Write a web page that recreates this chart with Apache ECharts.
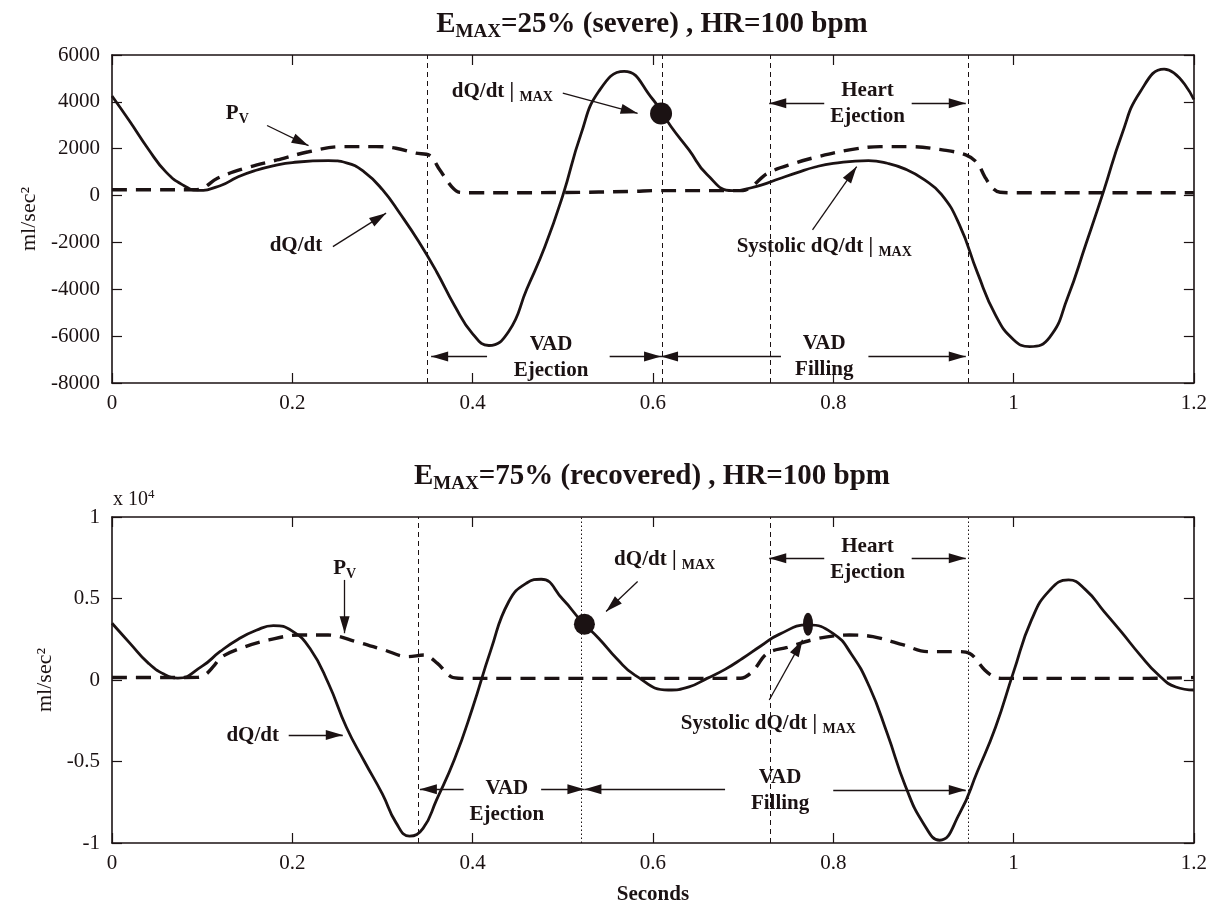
<!DOCTYPE html>
<html>
<head>
<meta charset="utf-8">
<script src="https://cdn.jsdelivr.net/npm/echarts@6.0.0/dist/echarts.min.js"></script>
<style>
  html, body { margin: 0; padding: 0; background: #fff; }
  #chart { width: 1210px; height: 907px; }
</style>
</head>
<body>
<div id="chart"></div>
<script>
const INK = '#1b1213'
const SERIF = "'Liberation Serif', 'Times New Roman', serif"

// ---- top panel : E_MAX = 25% (severe) ----
const topT = [0, 0.02, 0.04, 0.06, 0.08, 0.095, 0.12, 0.14, 0.16, 0.18, 0.2, 0.24, 0.26, 0.28, 0.3, 0.32, 0.34, 0.36, 0.38, 0.4, 0.418, 0.44, 0.46, 0.48, 0.5, 0.52, 0.54, 0.568, 0.6, 0.62, 0.64, 0.66, 0.688, 0.72, 0.74, 0.76, 0.78, 0.8, 0.839, 0.86, 0.88, 0.9, 0.92, 0.94, 0.96, 0.98, 1.0, 1.018, 1.04, 1.06, 1.08, 1.1, 1.12, 1.14, 1.167, 1.2]
const topDQ = [4250, 3150, 2000, 1000, 420, 220, 420, 800, 1080, 1280, 1410, 1490, 1400, 1000, 250, -800, -1950, -3250, -4700, -5900, -6400, -5800, -4000, -2200, 0, 2600, 4450, 5300, 4100, 2950, 1950, 900, 210, 450, 720, 980, 1220, 1370, 1490, 1380, 1130, 700, 50, -1250, -3300, -5100, -6150, -6450, -6050, -4350, -2100, 200, 2600, 4400, 5400, 4100]
const topPvT = [0, 0.05, 0.09, 0.1, 0.117, 0.148, 0.183, 0.218, 0.254, 0.293, 0.315, 0.337, 0.352, 0.3635, 0.3767, 0.3855, 0.4, 0.5, 0.58, 0.6, 0.7, 0.71, 0.727, 0.757, 0.783, 0.818, 0.852, 0.887, 0.921, 0.947, 0.96, 0.968, 0.977, 0.985, 1.0, 1.1, 1.2]
const topPv = [250, 250, 250, 300, 740, 1170, 1520, 1870, 2090, 2090, 2020, 1810, 1720, 1100, 384, 140, 120, 130, 180, 210, 213, 400, 950, 1380, 1660, 1950, 2090, 2090, 1950, 1740, 1380, 810, 310, 140, 120, 120, 120]
const topMax = [[0.609, 3500]]
const topBounds = [0.354, 0.609, 0.729, 0.947]

// ---- bottom panel : E_MAX = 75% (recovered) ----
const botT = [0, 0.02, 0.04, 0.058, 0.073, 0.1, 0.12, 0.14, 0.16, 0.179, 0.2, 0.22, 0.24, 0.26, 0.28, 0.3, 0.315, 0.33, 0.345, 0.36, 0.38, 0.4, 0.42, 0.44, 0.46, 0.476, 0.5, 0.52, 0.54, 0.56, 0.58, 0.617, 0.64, 0.66, 0.68, 0.7, 0.72, 0.74, 0.772, 0.8, 0.82, 0.84, 0.86, 0.88, 0.9, 0.918, 0.94, 0.96, 0.98, 1.0, 1.02, 1.04, 1.061, 1.08, 1.1, 1.12, 1.14, 1.16, 1.18, 1.2]
const botDQ = [3480, 2250, 1050, 350, 120, 850, 1750, 2500, 3050, 3340, 3000, 1900, -200, -2900, -5000, -7000, -8750, -9580, -9100, -7350, -4850, -1700, 1800, 4800, 5950, 6180, 4950, 3650, 2550, 1300, 300, -614, -420, 100, 650, 1350, 2100, 2800, 3380, 2850, 1600, -400, -3300, -6500, -8800, -9830, -8200, -5600, -2900, 500, 3700, 5500, 6140, 5527, 4230, 2920, 1560, 350, -430, -614]
const botPvT = [0, 0.05, 0.095, 0.104, 0.112, 0.122, 0.148, 0.174, 0.207, 0.24, 0.271, 0.302, 0.328, 0.346, 0.361, 0.376, 0.388, 0.45, 0.55, 0.65, 0.697, 0.71, 0.727, 0.749, 0.784, 0.818, 0.844, 0.878, 0.904, 0.938, 0.951, 0.968, 0.978, 0.986, 1.05, 1.15, 1.2]
const botPv = [150, 150, 160, 350, 800, 1430, 2050, 2460, 2760, 2760, 2350, 1840, 1430, 1530, 1020, 200, 100, 100, 100, 100, 110, 500, 1640, 2000, 2560, 2760, 2660, 2150, 1740, 1740, 1640, 610, 200, 100, 100, 100, 150]
const botMax = [[0.524, 3420]]
const botSys = [[0.772, 3420]]
const botBounds = [0.3415, 0.524, 0.729, 0.947]

// annotations (data coordinates)
const topNotes = [
  { at: [0.433, 4440], text: 'dQ/dt | {s|MAX}' },
  { at: [0.139, 3510], text: 'P{s|V}' },
  { at: [0.204, -2150], text: 'dQ/dt' },
  { at: [0.487, -6900], text: 'VAD\nEjection' },
  { at: [0.79, -6870], text: 'VAD\nFilling' },
  { at: [0.838, 3940], text: 'Heart\nEjection' },
  { at: [0.79, -2180], text: 'Systolic dQ/dt | {s|MAX}' }
]
const topArrows = [
  [[0.5, 4370], [0.583, 3510]],
  [[0.172, 2990], [0.218, 2130]],
  [[0.245, -2180], [0.304, -750]],
  [[0.416, -6870], [0.354, -6870]],
  [[0.552, -6870], [0.609, -6870]],
  [[0.742, -6870], [0.609, -6870]],
  [[0.839, -6870], [0.947, -6870]],
  [[0.79, 3940], [0.729, 3940]],
  [[0.887, 3940], [0.947, 3940]],
  [[0.777, -1465], [0.826, 1237]]
]
const botNotes = [
  { at: [0.258, 6860], text: 'P{s|V}' },
  { at: [0.156, -3380], text: 'dQ/dt' },
  { at: [0.438, -7470], text: 'VAD\nEjection' },
  { at: [0.741, -6760], text: 'VAD\nFilling' },
  { at: [0.613, 7370], text: 'dQ/dt | {s|MAX}' },
  { at: [0.838, 7390], text: 'Heart\nEjection' },
  { at: [0.728, -2660], text: 'Systolic dQ/dt | {s|MAX}' }
]
const botArrows = [
  [[0.258, 6140], [0.258, 2870]],
  [[0.196, -3380], [0.256, -3380]],
  [[0.39, -6710], [0.3415, -6710]],
  [[0.476, -6710], [0.524, -6710]],
  [[0.68, -6710], [0.524, -6710]],
  [[0.8, -6750], [0.947, -6750]],
  [[0.583, 6040], [0.548, 4200]],
  [[0.79, 7470], [0.729, 7470]],
  [[0.887, 7470], [0.947, 7470]],
  [[0.729, -1230], [0.766, 2460]]
]

// arrow head with its tip in the middle of the symbol box
const ARROW = 'path://M5,0L10,18L0,18ZM5,-18L5,-17.9'
const ELLIPSE = 'path://M5,0A5,11,0,1,1,5,22A5,11,0,1,1,5,0Z'

const SUB = {
  s: { fontSize: 14, fontWeight: 'bold', fontFamily: SERIF, color: INK, verticalAlign: 'bottom', lineHeight: 10 }
}

function pairs(t, v) {
  return t.map((x, i) => [x, v[i]])
}

function panelSeries(gi, dqT, dq, pvT, pv, bounds, boundTypes, arrows, notes) {
  return [
    {
      type: 'line',
      xAxisIndex: gi * 2,
      yAxisIndex: gi * 2,
      data: pairs(pvT, pv),
      smooth: 0.35,
      showSymbol: false,
      lineStyle: { color: INK, width: 3.4, type: [15, 9] },
      markLine: {
        silent: true,
        symbol: ['none', 'none'],
        label: { show: false },
        lineStyle: { color: INK, width: 1 },
        data: bounds.map((x, i) => ({ xAxis: x, lineStyle: { type: boundTypes[i] } }))
      },
      z: 3
    },
    {
      type: 'line',
      xAxisIndex: gi * 2,
      yAxisIndex: gi * 2,
      data: pairs(dqT, dq),
      smooth: 0.5,
      showSymbol: false,
      lineStyle: { color: INK, width: 2.8 },
      markLine: {
        silent: true,
        symbol: ['none', ARROW],
        symbolSize: 10,
        label: { show: false },
        lineStyle: { color: INK, width: 1.3, type: 'solid' },
        data: arrows.map(a => [{ coord: a[0] }, { coord: a[1], symbolSize: [10, 34] }])
      },
      markPoint: {
        silent: true,
        symbol: 'circle',
        symbolSize: 1,
        itemStyle: { color: 'rgba(0,0,0,0)' },
        label: {
          show: true,
          position: 'inside',
          color: INK,
          fontFamily: SERIF,
          fontSize: 21,
          fontWeight: 'bold',
          lineHeight: 26,
          rich: SUB
        },
        data: notes.map(n => ({ coord: n.at, value: 0, label: { formatter: n.text } }))
      },
      z: 4
    }
  ]
}

function xAx(gi, pos, labels, extra) {
  return Object.assign({
    type: 'value', gridIndex: gi, position: pos, min: 0, max: 1.2, interval: 0.2,
    axisLine: { onZero: false, lineStyle: { color: INK, width: 1.6 } },
    axisTick: { inside: true, length: 10, lineStyle: { color: INK, width: 1.2 } },
    axisLabel: { show: labels, color: INK, fontFamily: SERIF, fontSize: 21, margin: 10 },
    splitLine: { show: false }
  }, extra || {})
}

function yAx(gi, pos, labels, range, fmt, extra) {
  return Object.assign({
    type: 'value', gridIndex: gi, position: pos, min: range[0], max: range[1], interval: range[2],
    axisLine: { onZero: false, lineStyle: { color: INK, width: 1.6 } },
    axisTick: { inside: true, length: 10, lineStyle: { color: INK, width: 1.2 } },
    axisLabel: { show: labels, color: INK, fontFamily: SERIF, fontSize: 21, margin: 12, formatter: fmt },
    splitLine: { show: false }
  }, extra || {})
}

const yName = {
  name: 'ml/sec\u00b2',
  nameLocation: 'middle',
  nameRotate: 90,
  nameTextStyle: { color: INK, fontFamily: SERIF, fontSize: 22 }
}

const TITLE_RICH = {
  b: { fontSize: 29, fontWeight: 'bold', fontFamily: SERIF, fill: INK, lineHeight: 33 },
  s: { fontSize: 19, fontWeight: 'bold', fontFamily: SERIF, fill: INK, lineHeight: 13, verticalAlign: 'bottom' }
}

const chart = echarts.init(document.getElementById('chart'))
const option = {
  animation: false,
  backgroundColor: '#fff',
  grid: [
    { left: 112, right: 16, top: 55, height: 328 },
    { left: 112, right: 16, top: 517, height: 326 }
  ],
  xAxis: [
    xAx(0, 'bottom', true),
    xAx(0, 'top', false),
    xAx(1, 'bottom', true, {
      name: 'Seconds', nameLocation: 'middle', nameGap: 41,
      nameTextStyle: { color: INK, fontFamily: SERIF, fontSize: 21, fontWeight: 'bold' }
    }),
    xAx(1, 'top', false)
  ],
  yAxis: [
    yAx(0, 'left', true, [-8000, 6000, 2000], v => String(v), Object.assign({ nameGap: 71 }, yName)),
    yAx(0, 'right', false, [-8000, 6000, 2000]),
    yAx(1, 'left', true, [-10000, 10000, 5000], v => String(v / 10000), Object.assign({ nameGap: 54 }, yName)),
    yAx(1, 'right', false, [-10000, 10000, 5000])
  ],
  graphic: [
    {
      type: 'text', x: 652, y: 25,
      style: { text: '{b|E}{s|MAX}{b|=25% (severe) , HR=100 bpm}', rich: TITLE_RICH, align: 'center', verticalAlign: 'middle' }
    },
    {
      type: 'text', x: 652, y: 477,
      style: { text: '{b|E}{s|MAX}{b|=75% (recovered) , HR=100 bpm}', rich: TITLE_RICH, align: 'center', verticalAlign: 'middle' }
    },
    {
      type: 'text', x: 113, y: 500,
      style: {
        text: '{n|x 10}{p|4}',
        rich: {
          n: { fontSize: 20, fontFamily: SERIF, fill: INK, lineHeight: 24 },
          p: { fontSize: 13, fontFamily: SERIF, fill: INK, lineHeight: 10, verticalAlign: 'top' }
        },
        align: 'left', verticalAlign: 'middle'
      }
    }
  ],
  series: [
    ...panelSeries(0, topT, topDQ, topPvT, topPv, topBounds, [[5, 4], [5, 4], [5, 4], [5, 4]], topArrows, topNotes),
    ...panelSeries(1, botT, botDQ, botPvT, botPv, botBounds, [[5, 4], [1.5, 2.5], [5, 4], [1.5, 2.5]], botArrows, botNotes),
    {
      type: 'scatter', xAxisIndex: 0, yAxisIndex: 0, data: topMax,
      symbol: 'circle', symbolSize: 22, itemStyle: { color: INK, opacity: 1 }, silent: true, z: 5
    },
    {
      type: 'scatter', xAxisIndex: 2, yAxisIndex: 2, data: botMax,
      symbol: 'circle', symbolSize: 21, itemStyle: { color: INK, opacity: 1 }, silent: true, z: 5
    },
    {
      type: 'scatter', xAxisIndex: 2, yAxisIndex: 2, data: botSys,
      symbol: ELLIPSE, symbolSize: [10, 23], itemStyle: { color: INK, opacity: 1 }, silent: true, z: 5
    }
  ]
}
chart.setOption(option)
</script>
</body>
</html>
